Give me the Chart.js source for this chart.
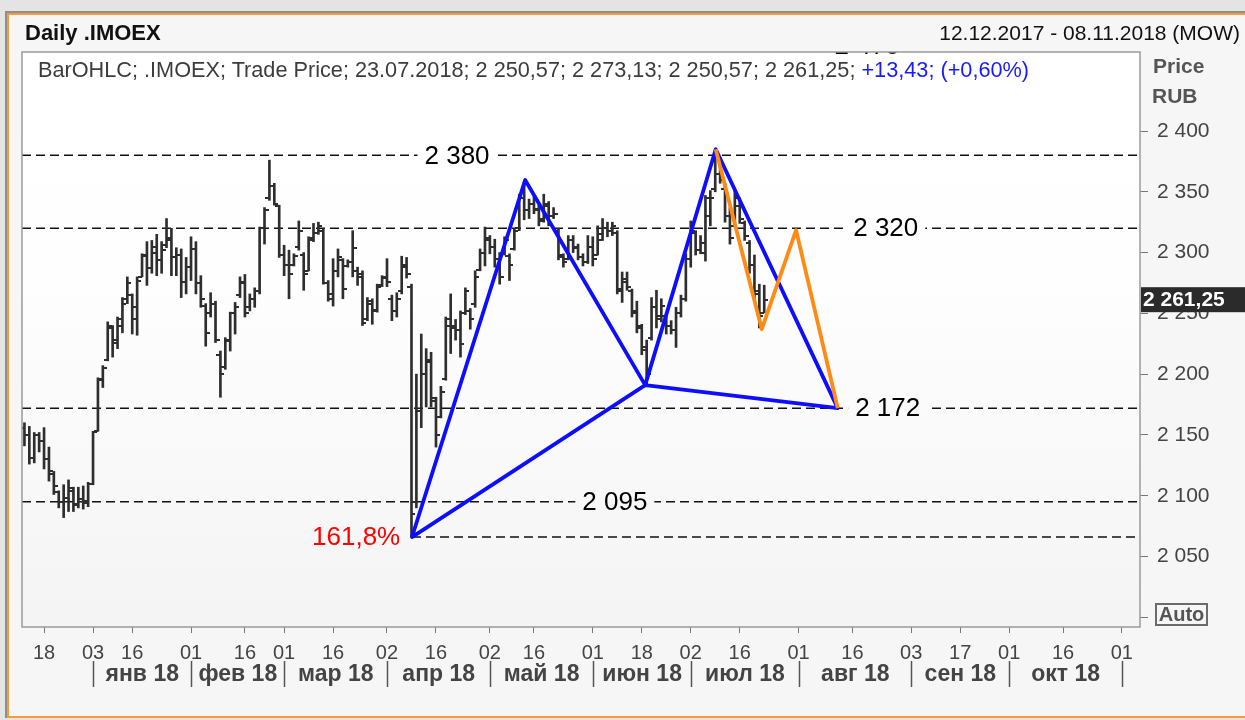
<!DOCTYPE html>
<html>
<head>
<meta charset="utf-8">
<script src="https://cdn.jsdelivr.net/npm/chart.js@4.4.1/dist/chart.umd.min.js"></script>
<style>
html, body { margin: 0; padding: 0; }
body { width: 1245px; height: 720px; background: #e4e4e4; position: relative; overflow: hidden;
       font-family: "Liberation Sans", Arial, sans-serif; }
#outer { position: absolute; left: 5px; top: 11px; width: 1240px; height: 707px; box-sizing: border-box;
         border-left: 2px solid #8e8e8e; border-top: 2px solid #8e8e8e; }
#inner { position: absolute; left: 0; top: 0; right: 0; bottom: 0; background: #f6f6f6;
         border-left: 2px solid #f39c3c; border-top: 2px solid #f39c3c; border-bottom: 2px solid #f39c3c; }
#c { position: absolute; left: 0; top: 0; z-index: 1; }
.t { position: absolute; white-space: nowrap; line-height: 24px; z-index: 2; }
#title { left: 25px; top: 21px; font-weight: bold; font-size: 22px; color: #111; }
#range { right: 5px; top: 21px; font-size: 21px; color: #111; }
#info { left: 38px; top: 58px; font-size: 21.7px; color: #3c3c3c; }
#info span { color: #1a1aff; }
#price { left: 1153px; top: 54px; font-weight: bold; font-size: 21px; color: #555; }
#rub { left: 1152px; top: 84px; font-weight: bold; font-size: 21px; color: #555; }
#auto { left: 1155px; top: 603px; width: 53px; height: 23px; box-sizing: border-box; border: 2px solid #6b6b6b;
        font-weight: bold; font-size: 20px; line-height: 19px; text-align: center; color: #555; }
</style>
</head>
<body>
<div id="outer"><div id="inner"></div></div>
<canvas id="c" width="1245" height="720"></canvas>
<div class="t" id="title">Daily .IMOEX</div>
<div class="t" id="range">12.12.2017 - 08.11.2018 (MOW)</div>
<div class="t" id="info"></div>
<div class="t" id="price">Price</div>
<div class="t" id="rub">RUB</div>
<div class="t" id="auto">Auto</div>
<script>
// trading day index 0 = 12.12.2017, last bar = 23.07.2018
var open = [2156,2150,2131,2150,2145,2130,2118,2103,2095,2098, 2104,2093,2097,2096,2110,2153,2196,2212,2238,2226,
  2240,2262,2265,2245,2280,2298,2287,2300,2294,2306, 2310,2296,2298,2276,2288,2303,2275,2256,2250,2258,
  2216,2206,2228,2250,2265,2276,2255,2262,2268,2320, 2345,2355,2338,2298,2290,2290,2305,2298,2285,2312,
  2316,2318,2275,2262,2285,2294,2289,2292,2285,2282, 2245,2258,2253,2273,2280,2262,2252,2268,2288,2272,
  2095,2170,2200,2212,2178,2165,2196,2245,2240,2236, 2250,2252,2258,2286,2300,2310,2305,2295,2300,2297,
  2303,2320,2345,2335,2340,2336,2328,2338,2330,2318, 2296,2295,2310,2304,2296,2292,2305,2298,2310,2320,
  2318,2316,2268,2276,2268,2252,2238,2222,2230,2255, 2248,2248,2240,2236,2250,2262,2295,2316,2302,2300,
  2330,2352,2365,2352,2330,2322,2338,2324,2308,2290, 2266,2250.57];
var high = [2160,2157,2152,2152,2156,2140,2120,2104,2109,2113, 2107,2107,2108,2111,2153,2197,2207,2243,2240,2247,
  2263,2280,2266,2280,2299,2309,2310,2315,2309,2328, 2320,2304,2303,2296,2313,2309,2281,2258,2267,2260,
  2219,2230,2251,2259,2280,2282,2266,2271,2321,2337, 2376,2357,2339,2306,2302,2299,2326,2300,2313,2324,
  2325,2320,2277,2295,2303,2295,2294,2318,2288,2285, 2263,2262,2274,2281,2295,2265,2267,2297,2296,2274,
  2200,2233,2221,2218,2181,2190,2247,2266,2245,2252, 2271,2254,2285,2303,2321,2314,2311,2300,2313,2299,
  2320,2348,2358,2344,2346,2339,2348,2342,2337,2320, 2299,2314,2314,2307,2299,2314,2313,2322,2328,2325,
  2325,2318,2284,2284,2270,2260,2241,2228,2263,2269, 2262,2250,2244,2255,2265,2299,2326,2318,2314,2347,
  2351,2385,2378,2357,2337,2351,2345,2326,2310,2298, 2274,2273.13];
var low = [2141,2126,2127,2136,2122,2112,2101,2090,2082,2087, 2087,2090,2089,2091,2109,2153,2189,2211,2214,2221,
  2234,2258,2233,2232,2280,2273,2283,2281,2283,2304, 2281,2281,2263,2266,2277,2266,2255,2223,2247,2226,
  2181,2204,2219,2233,2263,2247,2252,2255,2266,2307, 2343,2339,2296,2281,2262,2289,2302,2269,2285,2309,
  2315,2274,2260,2256,2280,2262,2288,2280,2273,2240, 2244,2241,2251,2272,2272,2244,2247,2266,2279,2066,
  2090,2156,2173,2173,2140,2164,2195,2217,2228,2214, 2249,2237,2255,2285,2289,2299,2288,2274,2298,2277,
  2302,2318,2327,2328,2332,2322,2325,2322,2328,2294, 2288,2294,2300,2294,2289,2291,2289,2298,2310,2313,
  2314,2266,2259,2269,2247,2234,2216,2190,2228,2238, 2243,2233,2233,2222,2247,2260,2288,2298,2299,2293,
  2322,2350,2357,2325,2307,2321,2324,2310,2283,2262, 2238,2250.57];
var close = [2150,2131,2150,2145,2130,2120,2108,2095,2098,2106, 2092,2097,2094,2110,2152,2195,2205,2240,2228,2245,
  2258,2275,2255,2277,2297,2287,2305,2294,2302,2312, 2296,2298,2276,2288,2303,2275,2262,2234,2258,2228,
  2200,2227,2250,2255,2275,2250,2262,2268,2320,2335, 2355,2340,2298,2290,2282,2297,2318,2282,2310,2316,
  2322,2275,2266,2285,2296,2270,2292,2304,2280,2242, 2260,2252,2272,2279,2276,2252,2262,2290,2282,2085,
  2170,2200,2210,2180,2150,2185,2240,2238,2236,2225, 2268,2245,2280,2300,2312,2305,2295,2280,2310,2290,
  2318,2345,2335,2340,2335,2326,2340,2330,2332,2298, 2292,2310,2305,2296,2292,2305,2295,2315,2320,2318,
  2322,2270,2278,2272,2250,2240,2220,2200,2255,2245, 2256,2240,2236,2250,2262,2295,2318,2302,2308,2345,
  2345,2365,2360,2330,2312,2345,2328,2314,2290,2268, 2247.82,2261.25];

// x axis: day ticks and month row (trading day index)
var tickIdx  = [4,14,22,34,45,53,63,74,84,95,104,116,126,136,146,158,169,181,191,201,212,224];
var tickText = ['18','03','16','01','16','01','16','02','16','02','16','01','18','02','16','01','16','03','17','01','16','01'];
var monthStart = [14,34,53,74,95,116,136,158,181,201,224];
var monthText = ['янв 18','фев 18','мар 18','апр 18','май 18','июн 18','июл 18','авг 18','сен 18','окт 18'];
var priceTicks = [2000,2050,2100,2150,2200,2250,2300,2350,2400];

// horizontal levels
var levels    = [2470, 2380, 2320, 2172, 2095, 2066];
var levelText = ['2 470','2 380','2 320','2 172','2 095','161,8%'];
var levelFrom = [-0.5, -0.5, -0.5, -0.5, -0.5, 79.1];
var labelAt   = [172, 88.3, 175.8, 176.2, 120.5, 76.7];

// harmonic pattern points X A B C D, and the orange leg
var patX = [79.1, 102.2, 126.7, 141.1, 166];
var patY = [2066, 2359.7, 2191, 2385, 2172];
var legX = [141.1, 150.5, 157.5, 166];
var legY = [2385, 2237, 2318.5, 2172];

var FONT = '"Liberation Sans", Arial, sans-serif';
var xMin = -0.5, xMax = 227.7;

function spaced(v) {
  var p = String(v).split('.');
  return p[0].replace(/\B(?=(\d{3})+(?!\d))/g, ' ') + (p[1] ? ',' + p[1] : '');
}
function money(v) { return spaced(v.toFixed(2)); }

// info line from the last bar
var n = close.length - 1;
var chg = close[n] - close[n - 1];
var pct = chg / close[n - 1] * 100;
document.getElementById('info').innerHTML = 'BarOHLC; .IMOEX; Trade Price; 23.07.2018; ' +
  money(open[n]) + '; ' + money(high[n]) + '; ' + money(low[n]) + '; ' + money(close[n]) + '; ' +
  '<span>+' + chg.toFixed(2).replace('.', ',') + '; (+' + pct.toFixed(2).replace('.', ',') + '%)</span>';

function tickMark(side) {
  var c = document.createElement('canvas');
  c.width = 8; c.height = 2;
  var g = c.getContext('2d');
  g.fillStyle = '#2e2e2e';
  g.fillRect(side < 0 ? 0 : 4, 0, 4, 2);
  return c;
}

var datasets = [];
levels.forEach(function (v, i) {
  datasets.push({ type: 'line', order: 6, data: [{ x: levelFrom[i], y: v }, { x: xMax, y: v }],
    borderColor: '#111', borderWidth: 1.5, borderDash: [9, 5], pointRadius: 0, fill: false });
});
datasets.push({ type: 'bar', order: 4, grouped: false, barThickness: 2, borderWidth: 0,
  backgroundColor: '#2e2e2e', data: high.map(function (h, i) { return { x: i, y: [low[i], h] }; }) });
datasets.push({ type: 'scatter', order: 3, pointStyle: tickMark(-1), pointRadius: 3,
  data: open.map(function (v, i) { return { x: i, y: v }; }) });
datasets.push({ type: 'scatter', order: 3, pointStyle: tickMark(1), pointRadius: 3,
  data: close.map(function (v, i) { return { x: i, y: v }; }) });
// blue: X-A-B-X, then B-C-D-B
var blueOrder = [0, 1, 2, 0, 2, 3, 4, 2];
datasets.push({ type: 'line', order: 1, borderColor: '#0d0dff', borderWidth: 3.8, pointRadius: 0, fill: false,
  borderJoinStyle: 'round', data: blueOrder.map(function (k) { return { x: patX[k], y: patY[k] }; }) });
datasets.push({ type: 'line', order: 0, borderColor: '#ff8a14', borderWidth: 3.8, pointRadius: 0, fill: false,
  borderJoinStyle: 'round', data: legX.map(function (v, i) { return { x: v, y: legY[i] }; }) });

var grad = null;
function levelLabel(ctx, x, y, i, withBg) {
  ctx.font = '26px ' + FONT;
  var px = x.getPixelForValue(labelAt[i]);
  var py = y.getPixelForValue(levels[i]);
  var w = ctx.measureText(levelText[i]).width;
  var red = levelText[i].indexOf('%') > 0;
  var left = red ? px - w : px - w / 2;
  if (withBg) { ctx.fillStyle = grad; ctx.fillRect(left - 7, py - 12, w + 14, 24); }
  ctx.fillStyle = red ? '#ff0000' : '#000';
  ctx.textAlign = 'left';
  ctx.textBaseline = 'middle';
  ctx.fillText(levelText[i], left, py + 1);
}

var decor = {
  id: 'decor',
  beforeDraw: function (chart) {
    var ctx = chart.ctx, a = chart.chartArea;
    ctx.save();
    grad = ctx.createLinearGradient(0, a.top, 0, a.bottom);
    grad.addColorStop(0, '#ffffff');
    grad.addColorStop(0.4, '#fefefe');
    grad.addColorStop(1, '#f4f4f4');
    ctx.fillStyle = grad;
    ctx.fillRect(a.left, a.top, a.right - a.left, a.bottom - a.top);
    ctx.restore();
  },
  afterDatasetsDraw: function (chart) {
    var ctx = chart.ctx, a = chart.chartArea, x = chart.scales.x, y = chart.scales.y;
    ctx.save();
    ctx.beginPath();
    ctx.rect(a.left, a.top, a.right - a.left, a.bottom - a.top);
    ctx.clip();
    levels.forEach(function (v, i) { levelLabel(ctx, x, y, i, v <= y.max); });
    ctx.restore();
  },
  afterDraw: function (chart) {
    var ctx = chart.ctx, a = chart.chartArea, x = chart.scales.x, y = chart.scales.y;
    ctx.save();
    ctx.strokeStyle = '#9b9b9b';
    ctx.lineWidth = 1.5;
    ctx.strokeRect(a.left, a.top, a.right - a.left, a.bottom - a.top);

    // last price box
    var py = y.getPixelForValue(close[n]);
    ctx.fillStyle = '#2b2b2b';
    ctx.fillRect(a.right + 1, py - 12.5, 110, 25);
    ctx.fillStyle = '#fff';
    ctx.font = 'bold 21px ' + FONT;
    ctx.textAlign = 'left';
    ctx.textBaseline = 'middle';
    ctx.fillText(money(close[n]), a.right + 3, py + 1);

    // month row
    ctx.font = 'bold 23px ' + FONT;
    ctx.strokeStyle = '#555';
    ctx.fillStyle = '#444';
    ctx.textAlign = 'center';
    monthStart.forEach(function (m, i) {
      var px = Math.round(x.getPixelForValue(m)) + 0.5;
      ctx.beginPath();
      ctx.moveTo(px, a.bottom + 34);
      ctx.lineTo(px, a.bottom + 60);
      ctx.stroke();
      if (i < monthText.length) {
        var nx = x.getPixelForValue(monthStart[i + 1]);
        ctx.fillText(monthText[i], (px + nx) / 2, a.bottom + 48);
      }
    });
    ctx.restore();
  }
};

Chart.defaults.font.family = FONT;
new Chart(document.getElementById('c'), {
  type: 'bar',
  data: { datasets: datasets },
  plugins: [decor],
  options: {
    responsive: false,
    animation: false,
    devicePixelRatio: 1,
    events: [],
    layout: { padding: { left: 22, top: 52, right: 0, bottom: 0 } },
    plugins: { legend: { display: false }, tooltip: { enabled: false } },
    scales: {
      x: {
        type: 'linear', position: 'bottom', min: xMin, max: xMax, offset: false,
        afterBuildTicks: function (s) { s.ticks = tickIdx.map(function (v) { return { value: v }; }); },
        afterFit: function (s) { s.height = 93; },
        grid: { offset: false, drawOnChartArea: false, drawTicks: true, tickLength: 6, color: '#777' },
        border: { display: false },
        ticks: { autoSkip: false, maxRotation: 0, padding: 8, color: '#444', font: { size: 20 },
          callback: function (v, i) { return tickText[i]; } }
      },
      y: {
        type: 'linear', position: 'right', min: 1992, max: 2465, beginAtZero: false,
        afterBuildTicks: function (s) { s.ticks = priceTicks.map(function (v) { return { value: v }; }); },
        afterFit: function (s) { s.width = 105; },
        grid: { drawOnChartArea: false, drawTicks: true, tickLength: 8, color: '#777' },
        border: { display: false },
        ticks: { autoSkip: false, padding: 9, color: '#444', font: { size: 21 },
          callback: function (v) { return v === 2000 ? '' : spaced(v); } }
      }
    }
  }
});
</script>
</body>
</html>
